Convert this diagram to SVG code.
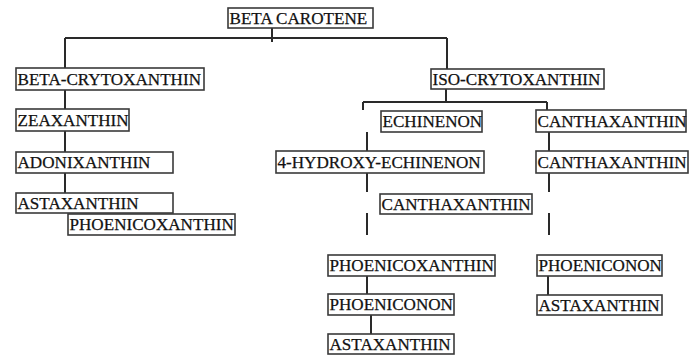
<svg xmlns="http://www.w3.org/2000/svg" width="697" height="356" viewBox="0 0 697 356">
<style>
.b{fill:#fff;stroke:#3a3a3a;stroke-width:1.6}
.t{font-family:"Liberation Serif","Times New Roman",serif;font-size:17.1px;fill:#111;stroke:#111;stroke-width:0.25}
.c{fill:none;stroke:#2a2a2a;stroke-width:2}
</style>
<rect width="697" height="356" fill="#fff"/>
<g id="connectors" class="c">
<path d="M272 28V42M65 38H447M65 38V68M447 38V69"/>
<path d="M65 90V109M65 131V152M65 173V193"/>
<path d="M446 89V102M363 102H547M363 102V110M547 102V110"/>
<path d="M367 132V151M367 173V192M367 213V235"/>
<path d="M549 132V151M549 173V192M549 213V235"/>
<path d="M367 276V294M371 315V334M548 276V295"/>
</g>
<g id="n1"><rect class="b" x="228" y="8" width="145" height="20"/><text class="t" x="229.5" y="24">BETA CAROTENE</text></g>
<g id="n2"><rect class="b" x="16" y="68" width="188" height="22"/><text class="t" x="17.5" y="85">BETA-CRYTOXANTHIN</text></g>
<g id="n3"><rect class="b" x="16" y="109" width="113" height="22"/><text class="t" x="17.5" y="126">ZEAXANTHIN</text></g>
<g id="n4"><rect class="b" x="16" y="152" width="157" height="21"/><text class="t" x="17.5" y="168">ADONIXANTHIN</text></g>
<g id="n5"><rect class="b" x="16" y="193" width="157" height="20"/><text class="t" x="17.5" y="209">ASTAXANTHIN</text></g>
<g id="n6"><rect class="b" x="68" y="214" width="167" height="21"/><text class="t" x="69.5" y="230">PHOENICOXANTHIN</text></g>
<g id="n7"><rect class="b" x="431" y="69" width="173" height="20"/><text class="t" x="432.5" y="85">ISO-CRYTOXANTHIN</text></g>
<g id="n8"><rect class="b" x="381" y="111" width="101" height="21"/><text class="t" x="382.5" y="127">ECHINENON</text></g>
<g id="n9"><rect class="b" x="536" y="110" width="150" height="22"/><text class="t" x="537.5" y="127">CANTHAXANTHIN</text></g>
<g id="n10"><rect class="b" x="276" y="151" width="208" height="22"/><text class="t" x="277.5" y="168">4-HYDROXY-ECHINENON</text></g>
<g id="n11"><rect class="b" x="536" y="151" width="152" height="22"/><text class="t" x="537.5" y="168">CANTHAXANTHIN</text></g>
<g id="n12"><rect class="b" x="380" y="194" width="152" height="20"/><text class="t" x="381.5" y="210">CANTHAXANTHIN</text></g>
<g id="n13"><rect class="b" x="328" y="255" width="167" height="21"/><text class="t" x="329.5" y="271">PHOENICOXANTHIN</text></g>
<g id="n14"><rect class="b" x="328" y="294" width="126" height="21"/><text class="t" x="329.5" y="310">PHOENICONON</text></g>
<g id="n15"><rect class="b" x="328" y="334" width="126" height="20"/><text class="t" x="329.5" y="350">ASTAXANTHIN</text></g>
<g id="n16"><rect class="b" x="537" y="255" width="125" height="21"/><text class="t" x="538.5" y="271">PHOENICONON</text></g>
<g id="n17"><rect class="b" x="537" y="295" width="125" height="20"/><text class="t" x="538.5" y="311">ASTAXANTHIN</text></g>
</svg>
